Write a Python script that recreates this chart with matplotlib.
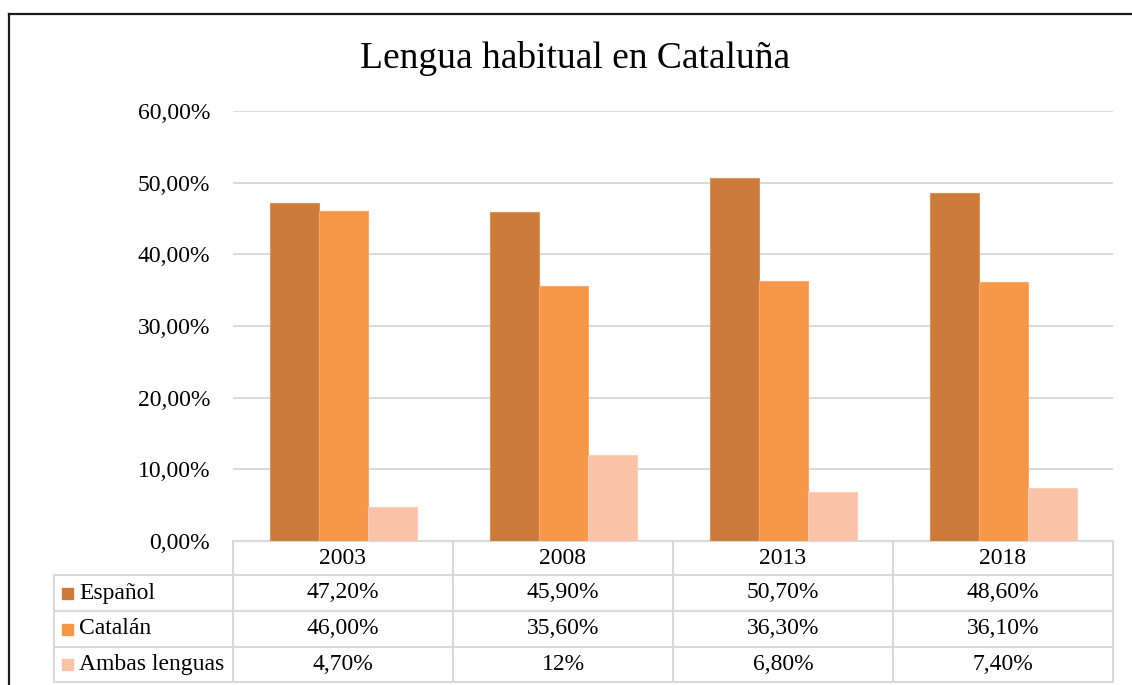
import matplotlib
matplotlib.use("Agg")
import matplotlib.pyplot as plt
from matplotlib.lines import Line2D
from matplotlib.patches import Rectangle
import matplotlib.transforms as mtransforms
import numpy as np

years = ["2003", "2008", "2013", "2018"]
series_names = ["Español", "Catalán", "Ambas lenguas"]
espanol = [47.2, 45.9, 50.7, 48.6]
catalan = [46.0, 35.6, 36.3, 36.1]
ambas = [4.7, 12.0, 6.8, 7.4]
table_labels = [
    ["47,20%", "45,90%", "50,70%", "48,60%"],
    ["46,00%", "35,60%", "36,30%", "36,10%"],
    ["4,70%", "12%", "6,80%", "7,40%"],
]
yticks = [0, 10, 20, 30, 40, 50, 60]
ytick_labels = ["0,00%", "10,00%", "20,00%", "30,00%", "40,00%", "50,00%", "60,00%"]
colors = ["#CC7B3A", "#F79848", "#FAC3A8"]
edge_colors = ["#D9935A", "#F9A868", "#FBCFB8"]

plt.rcParams["font.family"] = ["Liberation Serif", "DejaVu Serif"]

W, H = 1132, 685
fig = plt.figure(figsize=(W / 100, H / 100), dpi=100)

ax_l, ax_r, ax_t, ax_b = 233, 1113, 111, 541
ax = fig.add_axes([ax_l / W, 1 - ax_b / H, (ax_r - ax_l) / W, (ax_b - ax_t) / H])

x = np.arange(len(years))
bw = 49 / 220
all_series = [espanol, catalan, ambas]
for i, vals in enumerate(all_series):
    ax.bar(x + (i - 1) * bw, vals, width=bw, color=colors[i],
           edgecolor=edge_colors[i], linewidth=0.8, zorder=3)

FS = 17
ax.set_xlim(-0.5, len(years) - 0.5)
ax.set_ylim(0, 60)
ax.set_yticks(yticks)
ax.set_yticklabels(ytick_labels, fontsize=FS)
ax.tick_params(axis="y", length=0, pad=16.5)
ax.set_xticks([])
ax.grid(axis="y", color="#D9D9D9", linewidth=1.4, zorder=0)
ax.set_axisbelow(True)
for s in ax.spines.values():
    s.set_visible(False)

# Data table under the plot
trans = mtransforms.blended_transform_factory(ax.transData, ax.transAxes)
axh = ax_b - ax_t

def yf(px):
    return (ax_b - px) / axh

rows_px = [541, 575, 611, 647, 682]
rows = [yf(p) for p in rows_px]
left_x = -0.5 - (233 - 54) / 220
right_x = len(years) - 0.5
gcol = "#D9D9D9"
lw = 1.5

ax.add_line(Line2D([-0.5, right_x], [rows[0], rows[0]], transform=trans, color=gcol, lw=lw, clip_on=False))
for r in rows[1:]:
    ax.add_line(Line2D([left_x, right_x], [r, r], transform=trans, color=gcol, lw=lw, clip_on=False))
ax.add_line(Line2D([left_x, left_x], [rows[1], rows[-1]], transform=trans, color=gcol, lw=lw, clip_on=False))
for k in range(len(years) + 1):
    xv = k - 0.5
    ax.add_line(Line2D([xv, xv], [rows[0], rows[-1]], transform=trans, color=gcol, lw=lw, clip_on=False))

for k, yr in enumerate(years):
    ax.text(k, (rows[0] + rows[1]) / 2, yr, transform=trans, ha="center", va="center",
            fontsize=FS)
sq_w = 11 / 220
for i, name in enumerate(series_names):
    yc = (rows[i + 1] + rows[i + 2]) / 2
    ax.add_patch(Rectangle((left_x + 8 / 220, yc - 5.5 / axh), sq_w, 11 / axh,
                           transform=trans, color=colors[i], clip_on=False))
    ax.text(left_x + 25 / 220, yc, name, transform=trans, ha="left", va="center",
            fontsize=FS)
    for k in range(len(years)):
        ax.text(k, yc, table_labels[i][k], transform=trans, ha="center", va="center",
                fontsize=FS)

fig.text(575 / W, 1 - 58 / H, "Lengua habitual en Cataluña", ha="center", va="center",
         fontsize=27)

fig.add_artist(Line2D([8.5 / W, 8.5 / W], [0, 1 - 14 / H], transform=fig.transFigure,
                      color="#1a1a1a", lw=1.6))
fig.add_artist(Line2D([8.5 / W, 1], [1 - 14 / H, 1 - 14 / H], transform=fig.transFigure,
                      color="#1a1a1a", lw=1.6))

fig.savefig("out.png", dpi=100)
